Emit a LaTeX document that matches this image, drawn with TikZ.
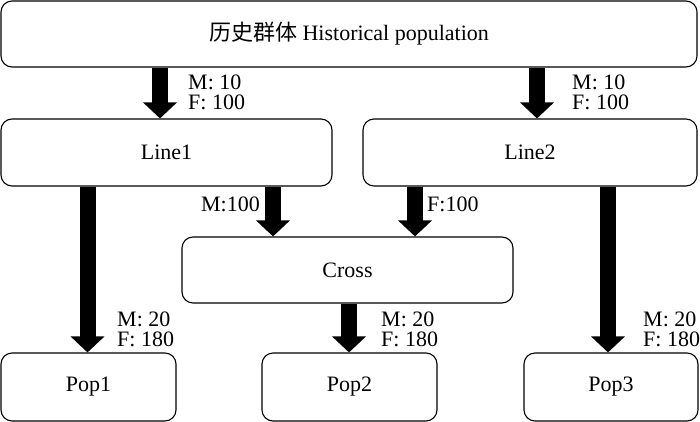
\documentclass[tikz,border=0pt]{standalone}
\usepackage{fontspec}
\setmainfont{Liberation Serif}
\newfontfamily\cjk{Noto Sans CJK SC}
\usetikzlibrary{arrows.meta}
\begin{document}
\begin{tikzpicture}[x=1pt,y=-1pt,
  box/.style={draw, line width=1.1pt, rounded corners=11pt, inner sep=0pt,
    font=\fontsize{22}{24}\selectfont},
  bigarrow/.style={line width=16pt, -{Triangle[width=33pt,length=16pt]}},
  lbl/.style={inner sep=0pt, align=left, font=\fontsize{22}{20}\selectfont}]
\useasboundingbox (0,0) rectangle (700,422);
% boxes
\node[box, minimum width=696pt, minimum height=66pt] (hist) at (349,34) {{\cjk 历史群体} Historical population};
\node[box, minimum width=331pt, minimum height=67pt] (line1) at (166.5,152.5) {Line1};
\node[box, minimum width=334pt, minimum height=67pt] (line2) at (530,152.5) {Line2};
\node[box, minimum width=331pt, minimum height=66pt] (cross) at (347.5,270) {Cross};
\node[box, minimum width=175pt, minimum height=68pt] (pop1) at (88.5,387) {Pop1};
\node[box, minimum width=175pt, minimum height=68pt] (pop2) at (349.5,387) {Pop2};
\node[box, minimum width=174pt, minimum height=68pt] (pop3) at (611,387) {Pop3};
% arrow x positions
\coordinate (ax1) at (160,0);
\coordinate (ax2) at (537,0);
\coordinate (ax3) at (87.5,0);
\coordinate (ax4) at (273,0);
\coordinate (ax5) at (415,0);
\coordinate (ax6) at (349,0);
\coordinate (ax7) at (608,0);
% arrows
\draw[bigarrow] (hist.south -| ax1) -- (line1.north -| ax1);
\draw[bigarrow] (hist.south -| ax2) -- (line2.north -| ax2);
\draw[bigarrow] (line1.south -| ax3) -- (pop1.north -| ax3);
\draw[bigarrow] (line1.south -| ax4) -- (cross.north -| ax4);
\draw[bigarrow] (line2.south -| ax5) -- (cross.north -| ax5);
\draw[bigarrow] (cross.south -| ax6) -- (pop2.north -| ax6);
\draw[bigarrow] (line2.south -| ax7) -- (pop3.north -| ax7);
% labels
\node[lbl, anchor=north west] (l1) at (188,75) {M: 10\\F: 100};
\node[lbl, anchor=north west] (l2) at (572,75) {M: 10\\F: 100};
\node[lbl, anchor=north east] (l3) at (260,197) {M:100};
\node[lbl, anchor=north west] (l4) at (427,197) {F:100};
\node[lbl, anchor=north west] (l5) at (117,312) {M: 20\\F: 180};
\node[lbl, anchor=north west] (l6) at (381,312) {M: 20\\F: 180};
\node[lbl, anchor=north west] (l7) at (643,312) {M: 20\\F: 180};
\end{tikzpicture}
\end{document}
